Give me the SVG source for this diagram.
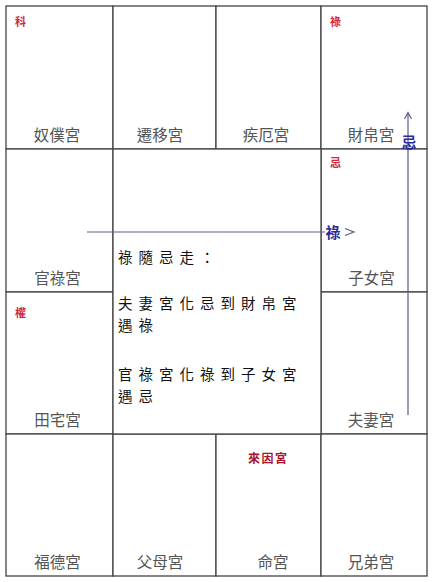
<svg xmlns="http://www.w3.org/2000/svg" width="434" height="582" viewBox="0 0 434 582">
<style>
.cell{fill:#fff;stroke:#444;stroke-width:1.3}
.lbl{font-family:"Noto Sans CJK TC","Noto Sans CJK SC",sans-serif;font-size:15.5px;fill:#555;text-anchor:middle}
.mk{font-family:"Noto Sans CJK TC","Noto Sans CJK SC",serif;font-size:11px;font-weight:bold;fill:#d0283a}
.note{font-family:"Noto Sans CJK TC","Noto Sans CJK SC",serif;font-size:14.5px;fill:#111;letter-spacing:6px}
.blue{font-family:"Noto Sans CJK TC","Noto Sans CJK SC",serif;font-size:15px;font-weight:bold;fill:#2a2a9c;text-anchor:middle}
.ln{stroke:#5c5c88;stroke-width:1.2;fill:none}
</style>
<rect x="0" y="0" width="434" height="582" fill="#fff"/>
<g id="nupu"><rect class="cell" x="6" y="6" width="107" height="143"/><text class="mk" x="15" y="26">科</text><text class="lbl" x="57" y="141">奴僕宮</text></g>
<g id="qianyi"><rect class="cell" x="113" y="6" width="103" height="143"/><text class="lbl" x="160" y="141">遷移宮</text></g>
<g id="jie"><rect class="cell" x="216" y="6" width="105" height="143"/><text class="lbl" x="266" y="141">疾厄宮</text></g>
<g id="caibo"><rect class="cell" x="321" y="6" width="106" height="143"/><text class="mk" x="330" y="26">祿</text><text class="lbl" x="371" y="141">財帛宮</text></g>
<g id="guanlu"><rect class="cell" x="6" y="149" width="107" height="143"/><text class="lbl" x="57.5" y="284">官祿宮</text></g>
<g id="zinu"><rect class="cell" x="321" y="149" width="106" height="143"/><text class="mk" x="330" y="167">忌</text><text class="lbl" x="371.5" y="284">子女宮</text></g>
<g id="tianzhai"><rect class="cell" x="6" y="292" width="107" height="142"/><text class="mk" x="15" y="317">權</text><text class="lbl" x="57.5" y="426">田宅宮</text></g>
<g id="fuqi"><rect class="cell" x="321" y="292" width="106" height="142"/><text class="lbl" x="371" y="426">夫妻宮</text></g>
<g id="fude"><rect class="cell" x="6" y="434" width="107" height="142"/><text class="lbl" x="57.5" y="568">福德宮</text></g>
<g id="fumu"><rect class="cell" x="113" y="434" width="103" height="142"/><text class="lbl" x="160" y="568">父母宮</text></g>
<g id="ming"><rect class="cell" x="216" y="434" width="105" height="142"/><text x="248" y="463" style="font-family:'Noto Sans CJK TC','Noto Sans CJK SC',serif;font-size:12px;font-weight:bold;fill:#a8142c;letter-spacing:1.5px">來因宮</text><text class="lbl" x="273" y="568">命宮</text></g>
<g id="xiongdi"><rect class="cell" x="321" y="434" width="106" height="142"/><text class="lbl" x="371" y="568">兄弟宮</text></g>
<g id="center"><rect class="cell" x="113" y="149" width="208" height="285"/>
<text class="note" x="118" y="263">祿隨忌走：</text>
<text class="note" x="118" y="309">夫妻宮化忌到財帛宮</text>
<text class="note" x="118" y="331">遇祿</text>
<text class="note" x="118" y="380">官祿宮化祿到子女宮</text>
<text class="note" x="118" y="402">遇忌</text>
</g>
<g id="connectors">
<path class="ln" d="M87,232 H325"/>
<text class="blue" x="333" y="238">祿</text>
<path class="ln" d="M345,228.5 L354,232 L345,235.5"/>
<path class="ln" d="M408,415 V113"/>
<path class="ln" d="M404.5,119 L408,112.5 L411.5,119"/>
<text class="blue" x="409" y="148">忌</text>
</g>
</svg>
